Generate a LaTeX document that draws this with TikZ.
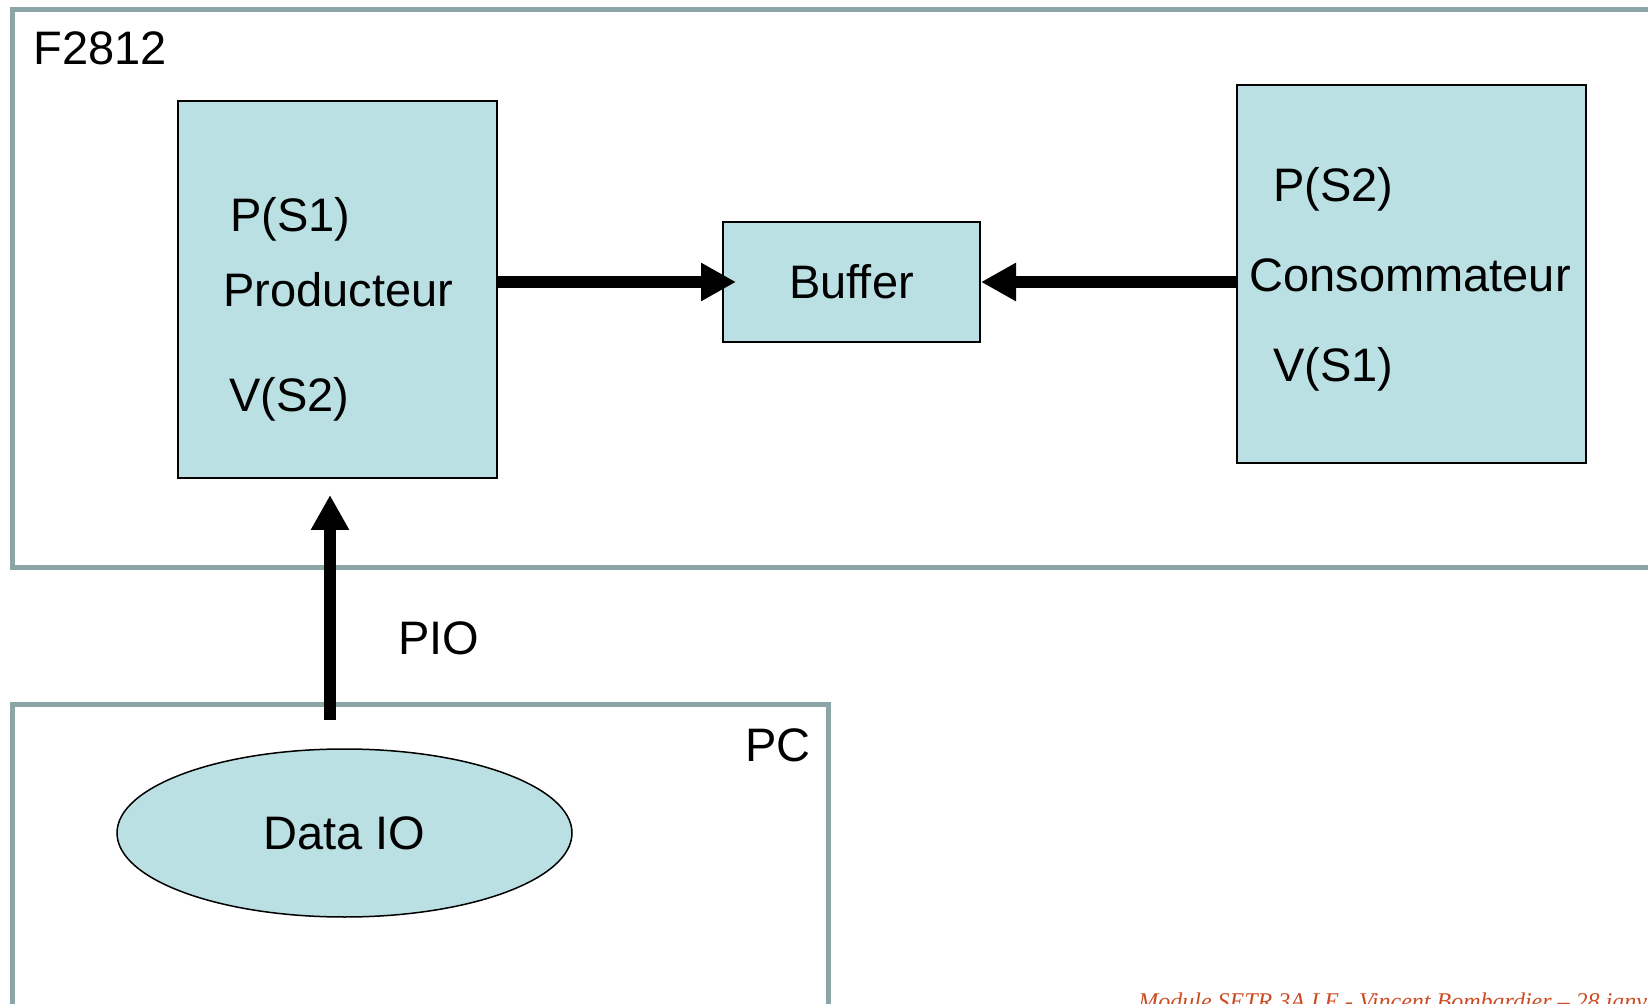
\documentclass[tikz,border=0pt]{standalone}
\usepackage{fontspec}
\setmainfont{Liberation Sans}
\newfontfamily\footfont{Liberation Serif}
\usepackage{tikz}
\usetikzlibrary{arrows.meta,shapes.geometric}
\definecolor{framegray}{RGB}{140,166,168}
\definecolor{boxcyan}{RGB}{186,224,227}
\definecolor{footred}{RGB}{205,75,35}
\tikzset{
  hwframe/.style  = {draw=framegray,line width=2.5pt},
  taskbox/.style  = {draw,fill=boxcyan,line width=1pt,inner sep=0pt,
                     font=\fontsize{23.5}{28}\selectfont},
  lbl/.style      = {anchor=base west,inner sep=0pt,font=\fontsize{23.5}{28}\selectfont},
  flowarr/.style  = {-{Triangle[length=17.5pt,width=18pt]},line width=6pt}
}
\newcommand{\hwbox}[4]{%
  \draw[hwframe] (#1,#2) rectangle (#3,#4);
}

\begin{document}
\begin{tikzpicture}[x=0.5pt,y=-0.5pt]
  \clip (0,0) rectangle (1648,1004);
  % cartes
  \hwbox{12.5}{10}{1720}{568}
  \hwbox{12.5}{704}{828}{1060}
  \node[lbl] (f2812) at (33,65) {F2812};
  \node[lbl] (pc) at (745,761) {PC};
  % taches
  \node[taskbox,minimum width=159.5pt,minimum height=188.5pt] (prod) at (337.5,289.5) {};
  \node[lbl] (prodp) at (230,232) {P(S1)};
  \node[lbl] (prodname) at (223,307) {Producteur};
  \node[lbl] (prodv) at (229,412) {V(S2)};
  \node[taskbox,minimum width=128.5pt,minimum height=60pt] (buf) at (851.5,282) {Buffer};
  \node[taskbox,minimum width=174.5pt,minimum height=189pt] (cons) at (1411.5,274) {};
  \node[lbl] (consp) at (1273,202) {P(S2)};
  \node[lbl] (consname) at (1249,292) {Consommateur};
  \node[lbl] (consv) at (1273,382) {V(S1)};
  \node[taskbox,ellipse,line width=0.75pt,minimum width=227.5pt,minimum height=84pt]
    (dataio) at (344.5,833) {Data IO};
  % liaisons
  \draw[flowarr,shorten >=-7pt] (prod.east |- buf.west) -- (buf.west);
  \draw[flowarr] (cons.west |- buf.east) -- (buf.east);
  \coordinate (piofoot) at (330,720);
  \draw[flowarr,shorten >=8pt] (piofoot) -- (piofoot |- prod.south);
  \node[lbl] (pio) at (398,654) {PIO};
  % pied de page
  \node[anchor=base west,inner sep=0pt,text=footred,
        font=\footfont\itshape\fontsize{12}{14}\selectfont]
    (foot) at (1138,1009) {Module SETR 3A LE - Vincent Bombardier – 28 janvier};
\end{tikzpicture}
\end{document}
